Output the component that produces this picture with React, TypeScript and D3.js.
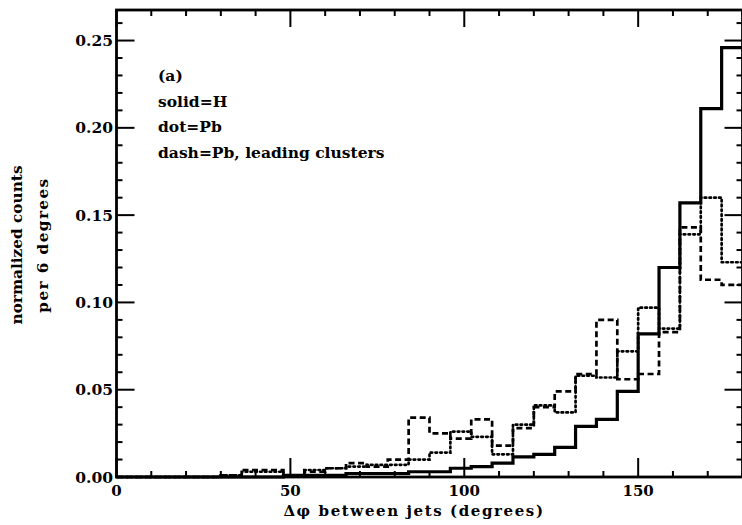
import React from "react";
import * as d3 from "d3";

// Δφ histogram, 6-degree bins from 0 to 180
const binStarts = d3.range(0, 180, 6);

// solid = H
const hydrogen = [
  0, 0, 0, 0, 0, 0, 0, 0, 0.001, 0.001,
  0.001, 0.002, 0.002, 0.002, 0.003, 0.003, 0.005, 0.006, 0.008, 0.0115,
  0.013, 0.017, 0.029, 0.033, 0.049, 0.082, 0.12, 0.157, 0.211, 0.246,
];

// dot = Pb
const lead = [
  0, 0, 0, 0, 0, 0.001, 0.003, 0.003, 0.001, 0.004,
  0.005, 0.006, 0.007, 0.007, 0.01, 0.014, 0.026, 0.023, 0.013, 0.03,
  0.041, 0.037, 0.058, 0.057, 0.072, 0.097, 0.085, 0.139, 0.16, 0.123,
];

// dash = Pb, leading clusters
const leadLeading = [
  0, 0, 0, 0, 0, 0.001, 0.004, 0.004, 0.001, 0.003,
  0.005, 0.008, 0.006, 0.01, 0.034, 0.025, 0.022, 0.033, 0.018, 0.028,
  0.04, 0.049, 0.059, 0.09, 0.056, 0.059, 0.083, 0.143, 0.113, 0.11,
];

const xTickLabels = [0, 50, 100, 150];
const yTickLabels = [0, 0.05, 0.1, 0.15, 0.2, 0.25];
const legendLines = ["(a)", "solid=H", "dot=Pb", "dash=Pb, leading clusters"];

const W = 742;
const H = 525;
const left = 116.5;
const right = 742.5;
const top = 10;
const bottom = 477;

const FONT = "'DejaVu Serif', serif";

export default function App() {
  const x = d3.scaleLinear().domain([0, 180]).range([left, right]);
  const y = d3.scaleLinear().domain([0, 0.2675]).range([bottom, top]);

  const step = d3
    .line<[number, number]>()
    .x((d) => x(d[0]))
    .y((d) => y(d[1]))
    .curve(d3.curveStepAfter);

  const pts = (vals: number[]): [number, number][] => [
    ...binStarts.map((b, i) => [b, vals[i]] as [number, number]),
    [180, vals[vals.length - 1]],
  ];

  const xMinor = d3.range(0, 181, 10);
  const yMinor = d3.range(0, 0.2675, 0.01).map((v) => +v.toFixed(3));
  const isMajorY = (v: number) => Math.abs(v / 0.05 - Math.round(v / 0.05)) < 1e-6;

  return (
    <svg
      width={W}
      height={H}
      style={{ position: "absolute", left: 0, top: 0, background: "#fff" }}
    >
      {/* histograms */}
      <path
        d={step(pts(lead)) || ""}
        fill="none"
        stroke="#000"
        strokeWidth={2.7}
        strokeDasharray="1.6 3.2"
        strokeLinecap="round"
      />
      <path
        d={step(pts(leadLeading)) || ""}
        fill="none"
        stroke="#000"
        strokeWidth={2.7}
        strokeDasharray="6 3.5"
      />
      <path
        d={step(pts(hydrogen)) || ""}
        fill="none"
        stroke="#000"
        strokeWidth={3.2}
      />

      {/* frame */}
      <rect
        x={left}
        y={top}
        width={right - left}
        height={bottom - top}
        fill="none"
        stroke="#000"
        strokeWidth={2.8}
      />

      {/* x ticks, bottom and top */}
      {xMinor.map((v) => {
        const major = v % 50 === 0;
        const len = major ? 19 : 6;
        return (
          <g key={"xt" + v} stroke="#000" strokeWidth={2}>
            <line x1={x(v)} x2={x(v)} y1={bottom} y2={bottom - len} />
            <line x1={x(v)} x2={x(v)} y1={top} y2={top + (major ? 17 : 6)} />
          </g>
        );
      })}

      {/* y ticks, left and right */}
      {yMinor.map((v) => {
        const major = isMajorY(v);
        return (
          <g key={"yt" + v} stroke="#000" strokeWidth={2}>
            <line x1={left} x2={left + (major ? 18 : 6)} y1={y(v)} y2={y(v)} />
            <line x1={right} x2={right - (major ? 18 : 6)} y1={y(v)} y2={y(v)} />
          </g>
        );
      })}

      {/* tick labels */}
      {xTickLabels.map((v) => (
        <text
          key={"xl" + v}
          x={x(v)}
          y={496}
          textAnchor="middle"
          fontFamily={FONT}
          fontWeight="bold"
          fontSize={15}
        >
          {v}
        </text>
      ))}
      {yTickLabels.map((v) => (
        <text
          key={"yl" + v}
          x={113}
          y={y(v)}
          dy="0.36em"
          textAnchor="end"
          fontFamily={FONT}
          fontWeight="bold"
          fontSize={15.5}
        >
          {v.toFixed(2)}
        </text>
      ))}

      {/* axis titles */}
      <text
        x={414}
        y={516}
        textAnchor="middle"
        fontFamily={FONT}
        fontWeight="bold"
        fontSize={15}
        letterSpacing={1.6}
      >
        Δφ between jets (degrees)
      </text>
      <text
        transform="translate(22,245) rotate(-90)"
        textAnchor="middle"
        fontFamily={FONT}
        fontWeight="bold"
        fontSize={15.3}
      >
        normalized counts
      </text>
      <text
        transform="translate(48,245) rotate(-90)"
        textAnchor="middle"
        fontFamily={FONT}
        fontWeight="bold"
        fontSize={15.3}
        letterSpacing={1.4}
      >
        per 6 degrees
      </text>

      {/* legend */}
      {legendLines.map((t, i) => (
        <text
          key={"lg" + i}
          x={158}
          y={81 + i * 25.5}
          fontFamily={FONT}
          fontWeight="bold"
          fontSize={15.5}
        >
          {t}
        </text>
      ))}
    </svg>
  );
}
